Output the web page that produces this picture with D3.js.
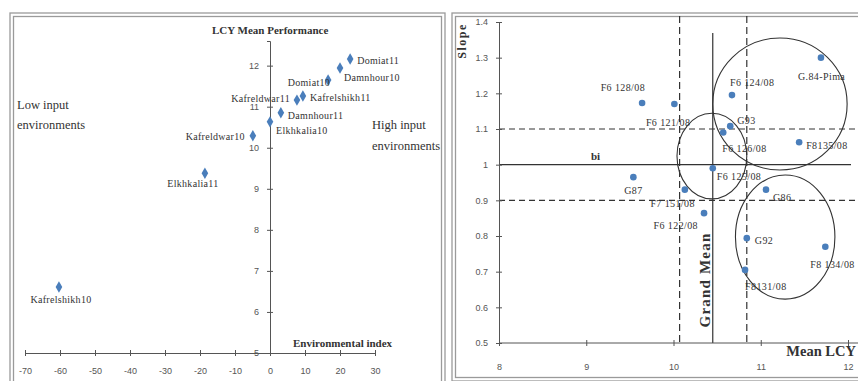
<!DOCTYPE html>
<html>
<head>
<meta charset="utf-8">
<script src="https://cdn.jsdelivr.net/npm/d3@7/dist/d3.min.js"></script>
<style>
  html, body { margin: 0; padding: 0; background: #fff; }
  svg { display: block; font-family: "Liberation Serif", "Times New Roman", serif; }
  .tick text { fill: #555; font-size: 9px; }
  .tick line, .domain { stroke: #555; }
</style>
</head>
<body>
<svg id="chart" width="858" height="381"></svg>
<script>
// ---- left panel: environments (environmental index vs mean LCY)
const envNames = ['Domiat11', 'Damnhour10', 'Domiat10', 'Kafrelshikh11', 'Kafreldwar11',
  'Damnhour11', 'Elkhkalia10', 'Kafreldwar10', 'Elkhkalia11', 'Kafrelshikh10'];
const envIndex = [22.9, 20.0, 16.6, 9.4, 7.7, 3.1, 0.0, -4.9, -18.6, -60.3];
const envMean = [12.16, 11.94, 11.65, 11.26, 11.16, 10.85, 10.63, 10.29, 9.38, 6.61];
const envXTicks = [-70, -60, -50, -40, -30, -20, -10, 0, 10, 20, 30];
const envYTicks = [5, 6, 7, 8, 9, 10, 11, 12];

// ---- right panel: genotypes (mean LCY vs regression slope)
const genoNames = ['G.84-Pima', 'F6 124/08', 'F6 128/08', 'F6 121/08', 'G93', 'F6 126/08',
  'F8135/08', 'F6 125/08', 'G87', 'F7 151/08', 'F6 122/08', 'G86', 'G92', 'F8131/08', 'F8 134/08'];
const genoMean = [11.69, 10.67, 9.64, 10.01, 10.65, 10.57, 11.44, 10.45, 9.54, 10.13, 10.35, 11.06, 10.84, 10.82, 11.74];
const genoSlope = [1.30, 1.195, 1.173, 1.17, 1.108, 1.09, 1.063, 0.99, 0.965, 0.93, 0.864, 0.93, 0.794, 0.705, 0.77];
const genoXTicks = [8, 9, 10, 11, 12];
const genoYTicks = [0.5, 0.6, 0.7, 0.8, 0.9, 1.0, 1.1, 1.2, 1.3, 1.4];
const grandMean = 10.45;
const meanBands = [10.07, 10.84];   // dashed verticals
const slopeBands = [0.9, 1.1];      // dashed horizontals
// annotation ellipses (centre x, centre y, radius in x units, radius in y units)
const groupCx = [11.22, 10.44, 11.28];
const groupCy = [1.17, 1.024, 0.797];
const groupRx = [0.77, 0.40, 0.57];
const groupRy = [0.185, 0.12, 0.174];

// label placement for each point: [dx, dy, anchor]
const envLabelPos = [[7, 1, 'start'], [4, 9, 'start'], [2, 2, 'end'], [7, 1, 'start'], [-7, -2, 'end'],
  [7, 3, 'start'], [6, 9, 'start'], [-8, 1, 'end'], [-12, 10, 'middle'], [2, 13, 'middle']];
const genoLabelPos = [[-23, 19, 'start'], [-2, -13, 'start'], [3, -15, 'end'], [16, 18, 'end'], [7, -6, 'start'],
  [-1, 16, 'start'], [7, 3, 'start'], [4, 8, 'start'], [0, 13, 'middle'], [10, 14, 'end'],
  [-6, 12, 'end'], [7, 8, 'start'], [8, 2, 'start'], [0, 17, 'start'], [-15, 18, 'start']];

const svg = d3.select('#chart');
const blue = '#4a7ebb';

// frames (double grey border)
function frame(x0, x1, y0, y1) {
  [0, 3.5].forEach(o => {
    svg.append('rect')
      .attr('x', x0 + o).attr('y', y0 + o)
      .attr('width', x1 - x0 - 2 * o).attr('height', y1 - y0 - 2 * o)
      .attr('fill', 'none').attr('stroke', '#9a9a9a').attr('stroke-width', 1.3);
  });
}
frame(10, 445, 13, 400);
frame(452, 870, 13, 381);

// ================= LEFT PANEL =================
const xL = d3.scaleLinear().domain([-70, 30]).range([25, 375]);
const yL = d3.scaleLinear().domain([5, 12.6]).range([353, 41]);
const left = svg.append('g');

const lxAxis = left.append('g')
  .attr('transform', `translate(0,${yL(5)})`)
  .call(d3.axisBottom(xL).tickValues(envXTicks).tickSizeOuter(0).tickSize(3).tickPadding(12)
    .tickFormat(d => String(d)));
lxAxis.selectAll('.tick line').attr('y1', -3);

const lyAxis = left.append('g')
  .attr('transform', `translate(${xL(0)},0)`)
  .call(d3.axisLeft(yL).tickValues(envYTicks).tickSizeOuter(0).tickSize(3).tickPadding(8));
lyAxis.selectAll('.tick line').attr('x1', 3);

left.selectAll('.env')
  .data(envNames)
  .enter()
  .append('path')
  .attr('class', 'env')
  .attr('d', d3.symbol().type(d3.symbolDiamond).size(38))
  .attr('transform', (d, i) => `translate(${xL(envIndex[i])},${yL(envMean[i])})`)
  .attr('fill', blue);

left.selectAll('.envlab')
  .data(envNames)
  .enter()
  .append('text')
  .attr('class', 'envlab')
  .attr('x', (d, i) => xL(envIndex[i]) + envLabelPos[i][0])
  .attr('y', (d, i) => yL(envMean[i]) + envLabelPos[i][1])
  .attr('dy', '0.35em')
  .attr('text-anchor', (d, i) => envLabelPos[i][2])
  .attr('font-size', 10)
  .attr('letter-spacing', 0.3)
  .attr('fill', '#333')
  .text(d => d);

left.append('text').attr('x', 212).attr('y', 34)
  .attr('font-size', 11).attr('font-weight', 'bold').attr('fill', '#333')
  .text('LCY Mean Performance');
left.append('text').attr('x', 293).attr('y', 347)
  .attr('font-size', 11).attr('font-weight', 'bold').attr('fill', '#333')
  .text('Environmental index');
left.append('text').attr('x', 17).attr('y', 109)
  .attr('font-size', 12.5).attr('fill', '#333').text('Low input');
left.append('text').attr('x', 17).attr('y', 129)
  .attr('font-size', 12.5).attr('fill', '#333').text('environments');
left.append('text').attr('x', 372).attr('y', 129)
  .attr('font-size', 12.5).attr('fill', '#333').text('High input');
left.append('text').attr('x', 372).attr('y', 150)
  .attr('font-size', 12.5).attr('fill', '#333').text('environments');

// ================= RIGHT PANEL =================
const xR = d3.scaleLinear().domain([8, 12]).range([499, 848]);
const yR = d3.scaleLinear().domain([0.5, 1.4]).range([343, 22]);
const right = svg.append('g');

// reference lines
right.append('line')
  .attr('x1', xR(8)).attr('x2', 851).attr('y1', yR(1)).attr('y2', yR(1))
  .attr('stroke', '#333').attr('stroke-width', 1.2);
slopeBands.forEach(v => {
  right.append('line')
    .attr('x1', xR(8)).attr('x2', 858).attr('y1', yR(v)).attr('y2', yR(v))
    .attr('stroke', '#333').attr('stroke-width', 1.2).attr('stroke-dasharray', '6,4');
});
meanBands.forEach(v => {
  right.append('line')
    .attr('x1', xR(v)).attr('x2', xR(v)).attr('y1', 16).attr('y2', yR(0.5))
    .attr('stroke', '#333').attr('stroke-width', 1.2).attr('stroke-dasharray', '7,4');
});
right.append('line')
  .attr('x1', xR(grandMean)).attr('x2', xR(grandMean)).attr('y1', 33).attr('y2', yR(0.5))
  .attr('stroke', '#333').attr('stroke-width', 1.2);

// group ellipses
groupCx.forEach((cx, i) => {
  right.append('ellipse')
    .attr('cx', xR(cx)).attr('cy', yR(groupCy[i]))
    .attr('rx', xR(cx + groupRx[i]) - xR(cx))
    .attr('ry', yR(groupCy[i] - groupRy[i]) - yR(groupCy[i]))
    .attr('fill', 'none').attr('stroke', '#333').attr('stroke-width', 1.1);
});

const rxAxis = right.append('g')
  .attr('transform', `translate(0,${yR(0.5)})`)
  .call(d3.axisBottom(xR).tickValues(genoXTicks).tickSizeOuter(0).tickSize(3).tickPadding(18)
    .tickFormat(d3.format('d')));
rxAxis.selectAll('.tick line').attr('y1', -3);
rxAxis.select('.domain').attr('d', `M${xR(8)},0H858`);

const ryAxis = right.append('g')
  .attr('transform', `translate(${xR(8)},0)`)
  .call(d3.axisLeft(yR).tickValues(genoYTicks).tickSizeOuter(0).tickSize(3).tickPadding(8)
    .tickFormat(d => d === 1 ? '1' : d3.format('.1f')(d)));
ryAxis.selectAll('.tick line').attr('x1', 3);

right.selectAll('.geno')
  .data(genoNames)
  .enter()
  .append('circle')
  .attr('class', 'geno')
  .attr('cx', (d, i) => xR(genoMean[i]))
  .attr('cy', (d, i) => yR(genoSlope[i]))
  .attr('r', 3.3)
  .attr('fill', blue);

right.selectAll('.genolab')
  .data(genoNames)
  .enter()
  .append('text')
  .attr('class', 'genolab')
  .attr('x', (d, i) => xR(genoMean[i]) + genoLabelPos[i][0])
  .attr('y', (d, i) => yR(genoSlope[i]) + genoLabelPos[i][1])
  .attr('dy', '0.35em')
  .attr('text-anchor', (d, i) => genoLabelPos[i][2])
  .attr('font-size', 10)
  .attr('letter-spacing', 0.4)
  .attr('fill', '#333')
  .text(d => d);

right.append('text').attr('x', 591).attr('y', 160)
  .attr('font-size', 11).attr('font-weight', 'bold').attr('fill', '#333').text('bi');
right.append('text').attr('x', 856).attr('y', 356).attr('text-anchor', 'end')
  .attr('font-size', 14.5).attr('font-weight', 'bold').attr('fill', '#333').text('Mean LCY');
right.append('text')
  .attr('transform', 'translate(466,41) rotate(-90)')
  .attr('text-anchor', 'middle')
  .attr('font-size', 12).attr('font-weight', 'bold').attr('letter-spacing', 1.5).attr('fill', '#333')
  .text('Slope');
right.append('text')
  .attr('transform', 'translate(710,280) rotate(-90)')
  .attr('text-anchor', 'middle')
  .attr('font-size', 15).attr('font-weight', 'bold').attr('letter-spacing', 1.2).attr('fill', '#333')
  .text('Grand Mean');
</script>
</body>
</html>
